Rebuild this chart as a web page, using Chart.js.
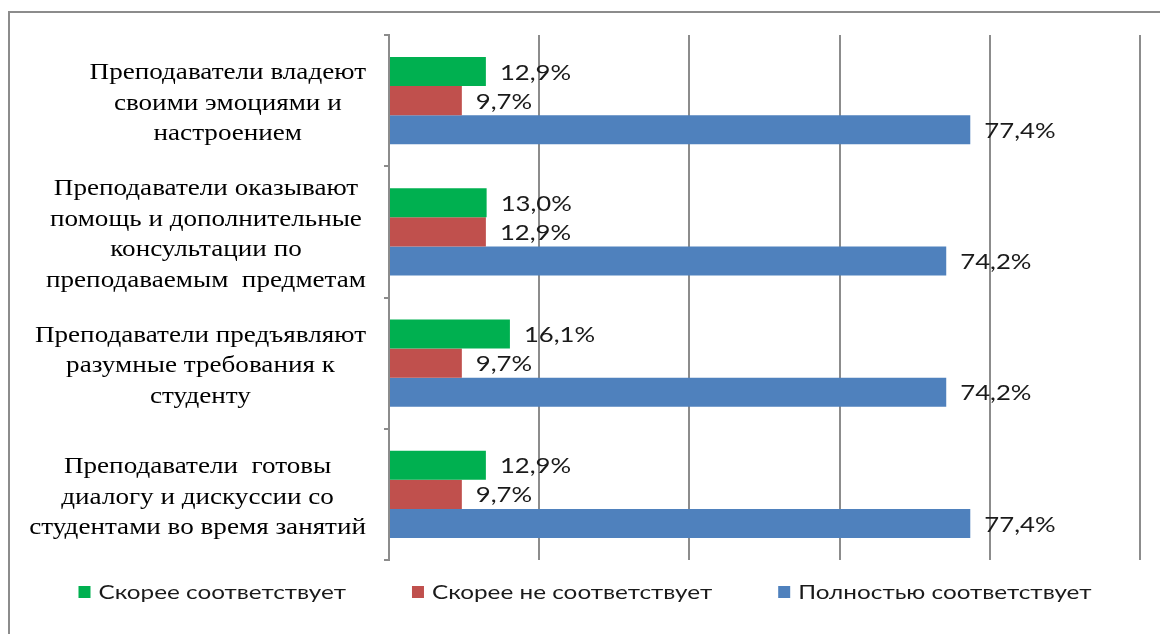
<!DOCTYPE html>
<html>
<head>
<meta charset="utf-8">
<script src="https://cdn.jsdelivr.net/npm/chart.js@4"></script>
<style>
  body { margin: 0; background: #fff; }
  .wrap { position: relative; width: 1160px; height: 634px; overflow: hidden; }
  .frame { position: absolute; left: 8px; top: 11px; width: 1200px; height: 700px;
           border-top: 2px solid #8c8c8c; border-left: 2px solid #8c8c8c; }
  canvas { position: absolute; left: 0; top: 0; }
</style>
</head>
<body>
<div class="wrap">
  <div class="frame"></div>
  <canvas id="chart" width="1160" height="634"></canvas>
</div>
<script>
// categories, top to bottom
const categories = [
  ['Преподаватели владеют', 'своими эмоциями и', 'настроением'],
  ['Преподаватели оказывают', 'помощь и дополнительные', 'консультации по', 'преподаваемым  предметам'],
  ['Преподаватели предъявляют', 'разумные требования к', 'студенту'],
  ['Преподаватели  готовы', 'диалогу и дискуссии со', 'студентами во время занятий']
];
const seriesNames = ['Скорее соответствует', 'Скорее не соответствует', 'Полностью соответствует'];
const seriesColors = ['#00B050', '#C0504D', '#4F81BD'];
const ratherYes = [12.9, 13.0, 16.1, 12.9];
const ratherNo = [9.7, 12.9, 9.7, 9.7];
const fullyYes = [77.4, 74.2, 74.2, 77.4];
const xTicks = [0, 20, 40, 60, 80, 100];

const fmt = v => v.toFixed(1).replace('.', ',') + '%';
const gridColor = '#8c8c8c';

// the original picture is stretched sideways, so text is too
function wideText(ctx, text, x, y, sx) {
  ctx.save();
  ctx.translate(x, y);
  ctx.scale(sx, 1);
  ctx.fillText(text, 0, 0);
  ctx.restore();
}

// value labels at bar ends
const valueLabels = {
  id: 'valueLabels',
  afterDatasetsDraw(chart) {
    const ctx = chart.ctx;
    ctx.save();
    ctx.font = '22px Lato';
    ctx.fillStyle = '#1a1a1a';
    ctx.textAlign = 'left';
    ctx.textBaseline = 'middle';
    chart.data.datasets.forEach((ds, i) => {
      chart.getDatasetMeta(i).data.forEach((bar, j) => {
        wideText(ctx, fmt(ds.data[j]), bar.x + 14, bar.y + 1, 1.17);
      });
    });
    ctx.restore();
  }
};

// category labels: block right-aligned, lines centred
const catLabels = {
  id: 'catLabels',
  afterDraw(chart) {
    const ctx = chart.ctx;
    const y = chart.scales.y;
    const lh = 30.5, sx = 1.13;
    ctx.save();
    ctx.font = '24px "Liberation Serif"';
    ctx.fillStyle = '#000';
    ctx.textAlign = 'center';
    ctx.textBaseline = 'middle';
    categories.forEach((lines, i) => {
      const w = Math.max(...lines.map(l => ctx.measureText(l).width)) * sx;
      const cx = 366 - w / 2;
      const cy = y.getPixelForTick(i) + 3;
      lines.forEach((l, k) => {
        wideText(ctx, l, cx, cy + (k - (lines.length - 1) / 2) * lh, sx);
      });
    });
    ctx.restore();
  }
};

// legend along the bottom
const bottomLegend = {
  id: 'bottomLegend',
  afterDraw(chart) {
    const ctx = chart.ctx;
    const box = 12, gapText = 8, gapItem = 66, cy = 592, sx = 1.215;
    ctx.save();
    ctx.font = '20px Lato';
    ctx.textBaseline = 'middle';
    ctx.textAlign = 'left';
    const widths = chart.data.datasets.map(ds => box + gapText + ctx.measureText(ds.label).width * sx);
    const total = widths.reduce((a, b) => a + b, 0) + gapItem * (widths.length - 1);
    let x = 585 - total / 2;
    chart.data.datasets.forEach((ds, i) => {
      ctx.fillStyle = ds.backgroundColor;
      ctx.fillRect(x, cy - box / 2, box, box);
      ctx.fillStyle = '#1a1a1a';
      wideText(ctx, ds.label, x + box + gapText, cy + 1, sx);
      x += widths[i] + gapItem;
    });
    ctx.restore();
  }
};

new Chart(document.getElementById('chart'), {
  type: 'bar',
  data: {
    labels: categories,
    datasets: [ratherYes, ratherNo, fullyYes].map((d, i) => ({
      label: seriesNames[i],
      data: d,
      backgroundColor: seriesColors[i],
      categoryPercentage: 0.665,
      barPercentage: 1
    }))
  },
  options: {
    indexAxis: 'y',
    responsive: false,
    animation: false,
    layout: { padding: { top: 35, right: 20, bottom: 74, left: 0 } },
    scales: {
      x: {
        min: 0, max: 100,
        afterBuildTicks: s => { s.ticks = xTicks.map(v => ({ value: v })); },
        ticks: { display: false },
        grid: { color: gridColor, lineWidth: 2, drawTicks: false },
        border: { display: false },
        afterFit: s => { s.height = 0; }
      },
      y: {
        ticks: { display: false },
        grid: { drawOnChartArea: false, offset: true, color: gridColor, lineWidth: 2, tickLength: 5 },
        border: { display: true, color: gridColor, width: 2 },
        afterFit: s => { s.width = 389; }
      }
    },
    plugins: {
      legend: { display: false },
      tooltip: { enabled: false }
    }
  },
  plugins: [valueLabels, catLabels, bottomLegend]
});
</script>
</body>
</html>
